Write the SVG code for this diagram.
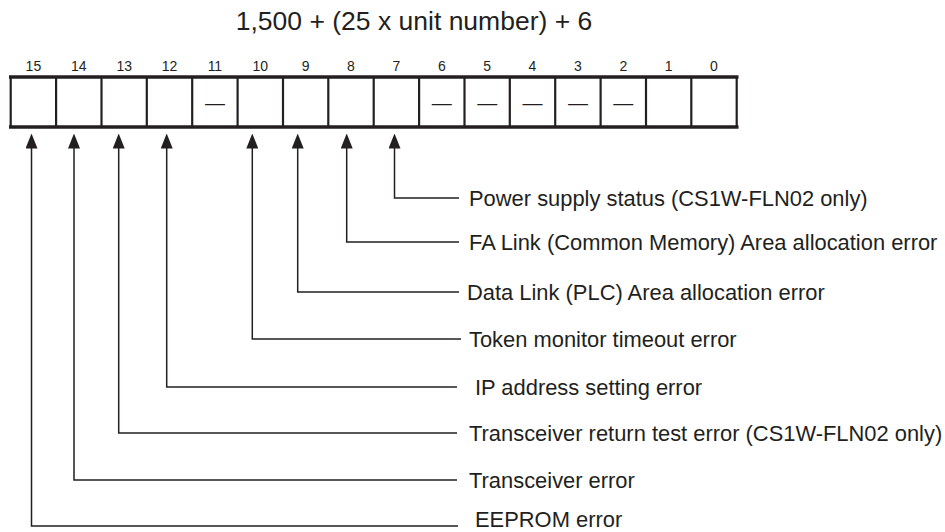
<svg xmlns="http://www.w3.org/2000/svg" width="945" height="532" viewBox="0 0 945 532">
<style>
  .t { font-family: "Liberation Sans", Arial, Helvetica, sans-serif; fill: #231f20; }
  .title { font-size: 26.5px; text-anchor: middle; }
  .bit { font-size: 14px; text-anchor: middle; }
  .dash { font-size: 20px; text-anchor: middle; }
  .lbl { font-size: 21.9px; }
  .reg { fill: none; stroke: #231f20; }
  .conn { fill: none; stroke: #231f20; stroke-width: 1.5; marker-end: url(#arr); }
</style>
<defs>
  <marker id="arr" markerUnits="userSpaceOnUse" markerWidth="15" markerHeight="12" viewBox="0 0 15 12" refX="0.5" refY="6" orient="auto">
    <path d="M0,0 L15,6 L0,12 Z" fill="#231f20"/>
  </marker>
</defs>
<rect width="945" height="532" fill="#ffffff"/>

<text id="title" class="t title" x="414" y="30">1,500 + (25 x unit number) + 6</text>

<g id="register">
  <line class="reg" x1="9" y1="77" x2="738.5" y2="77" stroke-width="3.5"/>
  <line class="reg" x1="9" y1="127" x2="738.5" y2="127" stroke-width="3.5"/>
  <g stroke-width="2.2" class="reg">
    <line x1="10.7" y1="77" x2="10.7" y2="127"/>
    <line x1="56.1" y1="77" x2="56.1" y2="127"/>
    <line x1="101.5" y1="77" x2="101.5" y2="127"/>
    <line x1="146.8" y1="77" x2="146.8" y2="127"/>
    <line x1="192.2" y1="77" x2="192.2" y2="127"/>
    <line x1="237.6" y1="77" x2="237.6" y2="127"/>
    <line x1="283" y1="77" x2="283" y2="127"/>
    <line x1="328.3" y1="77" x2="328.3" y2="127"/>
    <line x1="373.7" y1="77" x2="373.7" y2="127"/>
    <line x1="419.1" y1="77" x2="419.1" y2="127"/>
    <line x1="464.5" y1="77" x2="464.5" y2="127"/>
    <line x1="509.8" y1="77" x2="509.8" y2="127"/>
    <line x1="555.2" y1="77" x2="555.2" y2="127"/>
    <line x1="600.6" y1="77" x2="600.6" y2="127"/>
    <line x1="646" y1="77" x2="646" y2="127"/>
    <line x1="691.3" y1="77" x2="691.3" y2="127"/>
    <line x1="736.7" y1="77" x2="736.7" y2="127"/>
  </g>
</g>

<g id="bit-numbers">
  <text class="t bit" x="33.4" y="71">15</text>
  <text class="t bit" x="78.8" y="71">14</text>
  <text class="t bit" x="124.2" y="71">13</text>
  <text class="t bit" x="169.5" y="71">12</text>
  <text class="t bit" x="214.9" y="71">11</text>
  <text class="t bit" x="260.3" y="71">10</text>
  <text class="t bit" x="305.7" y="71">9</text>
  <text class="t bit" x="351" y="71">8</text>
  <text class="t bit" x="396.4" y="71">7</text>
  <text class="t bit" x="441.8" y="71">6</text>
  <text class="t bit" x="487.2" y="71">5</text>
  <text class="t bit" x="532.5" y="71">4</text>
  <text class="t bit" x="577.9" y="71">3</text>
  <text class="t bit" x="623.3" y="71">2</text>
  <text class="t bit" x="668.7" y="71">1</text>
  <text class="t bit" x="714" y="71">0</text>
</g>

<g id="unused-bits">
  <text class="t dash" x="214.9" y="109.5">—</text>
  <text class="t dash" x="441.8" y="109.5">—</text>
  <text class="t dash" x="487.2" y="109.5">—</text>
  <text class="t dash" x="532.5" y="109.5">—</text>
  <text class="t dash" x="577.9" y="109.5">—</text>
  <text class="t dash" x="623.3" y="109.5">—</text>
</g>

<g id="connectors">
  <path class="conn" d="M459,198 H394.5 V148"/>
  <path class="conn" d="M459,242 H346.7 V148"/>
  <path class="conn" d="M459,292 H297.7 V148"/>
  <path class="conn" d="M461,339 H252.3 V148"/>
  <path class="conn" d="M457,387 H166.7 V148"/>
  <path class="conn" d="M457,433 H118.7 V148"/>
  <path class="conn" d="M457,480 H74 V148"/>
  <path class="conn" d="M458,526 H31.5 V148"/>
</g>

<g id="label-bit7"><text class="t lbl" x="469" y="206">Power supply status (CS1W-FLN02 only)</text></g>
<g id="label-bit8"><text class="t lbl" x="469" y="250">FA Link (Common Memory) Area allocation error</text></g>
<g id="label-bit9"><text class="t lbl" x="467" y="300">Data Link (PLC) Area allocation error</text></g>
<g id="label-bit10"><text class="t lbl" x="469" y="347">Token monitor timeout error</text></g>
<g id="label-bit12"><text class="t lbl" x="475" y="395">IP address setting error</text></g>
<g id="label-bit13"><text class="t lbl" x="469" y="441">Transceiver return test error (CS1W-FLN02 only)</text></g>
<g id="label-bit14"><text class="t lbl" x="469" y="488">Transceiver error</text></g>
<g id="label-bit15"><text class="t lbl" x="475" y="527">EEPROM error</text></g>
</svg>
